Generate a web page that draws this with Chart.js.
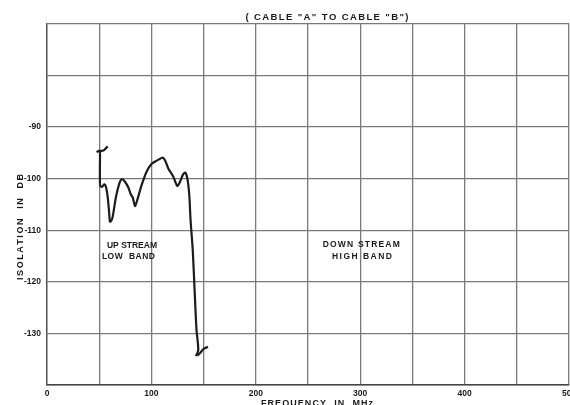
<!DOCTYPE html>
<html><head><meta charset="utf-8">
<script src="https://cdn.jsdelivr.net/npm/chart.js@4.4.1/dist/chart.umd.min.js"></script>
<style>html,body{margin:0;padding:0;background:#fff;overflow:hidden}canvas{display:block}</style>
</head><body>
<canvas id="c" width="570" height="405"></canvas>
<script>
// ---- data ----
const freqMHz = [50.8,50.8,52.4,53.5,54.9,56.5,58.1,59.3,60.3,61.5,62.9,66.1,69.3,71.6,74.7,77.9,80.2,82.1,84.3,86.5,90.7,95.5,100.3,105.1,110.8,113.0,116.2,121.0,124.8,127.4,130.0,132.2,134.4,136.3,137.5,139.6,141.8,143.2,144.9,142.7];
const isolationDb = [-94.7,-101.2,-101.6,-101.4,-101.1,-101.6,-103.5,-106.0,-108.3,-108.2,-107.4,-103.5,-100.9,-100.1,-100.6,-101.7,-103.0,-103.6,-105.3,-104.1,-101.2,-98.6,-97.1,-96.5,-95.9,-96.4,-98.0,-99.6,-101.4,-100.6,-99.3,-98.8,-99.9,-103.2,-108.0,-113.8,-123.5,-129.3,-133.2,-134.4];
const startMarkFreq = [47.6,49.5,52.4,55.0,58.1];
const startMarkDb = [-94.9,-94.6,-94.6,-94.4,-93.7];
const endMarkFreq = [144.0,146.6,150.0,154.2];
const endMarkDb = [-134.3,-133.8,-133.0,-132.6];
const xTickLabels = [0,100,200,300,400,500];
const yTickLabels = [-90,-100,-110,-120,-130];
const chartTitle = '( CABLE "A" TO CABLE "B")';
const xTitle = 'FREQUENCY  IN  MHz';
const yTitle = 'ISOLATION  IN  DB';
const noteTexts = ['UP STREAM','LOW  BAND','DOWN STREAM','HIGH BAND'];
const noteFreq = [81.4,78.0,301.0,301.7];
const noteDb = [-112.9,-115.2,-112.7,-115.2];
const noteWidth = [50,53,77,60];

function pts(xs, ys){ return xs.map((x,i)=>({x:x,y:ys[i]})); }

function spaced(ctx, text, cx, cy, width){
  const ws = [...text].map(ch=>ctx.measureText(ch).width);
  const W = ws.reduce((a,b)=>a+b,0);
  const n = ws.length;
  const extra = n>1 ? (width - W)/(n-1) : 0;
  let x = cx - width/2;
  ctx.textAlign = 'left';
  ctx.textBaseline = 'middle';
  [...text].forEach((ch,i)=>{ ctx.fillText(ch, x, cy); x += ws[i] + extra; });
}

const FONT = '"Liberation Sans", Arial, sans-serif';
const lastX = xTickLabels[xTickLabels.length-1];

const textPlugin = {
  id:'texts',
  afterDraw(chart){
    const ctx = chart.ctx, xs = chart.scales.x, ys = chart.scales.y;
    ctx.save();
    ctx.fillStyle = '#1a1a1a';
    ctx.font = 'bold 9.5px ' + FONT;
    spaced(ctx, chartTitle, 327, 17, 163);
    ctx.font = 'bold 9px ' + FONT;
    spaced(ctx, xTitle, 317, 404, 112);
    ctx.save();
    ctx.translate(21, 227);
    ctx.rotate(-Math.PI/2);
    spaced(ctx, yTitle, 0, 0, 106);
    ctx.restore();
    // last x tick label (clipped at the right edge as in the reference)
    ctx.font = 'bold 8.5px ' + FONT;
    ctx.textAlign = 'center'; ctx.textBaseline = 'top';
    ctx.fillText(String(lastX), xs.getPixelForValue(lastX), chart.chartArea.bottom + 4);
    noteTexts.forEach((t,i)=>{
      spaced(ctx, t, xs.getPixelForValue(noteFreq[i]), ys.getPixelForValue(noteDb[i]), noteWidth[i]);
    });
    ctx.restore();
  }
};

const lineStyle = {borderColor:'#1c1c1c', borderWidth:2.2, pointRadius:0, fill:false, tension:0.25};

new Chart(document.getElementById('c'), {
  type:'line',
  data:{ datasets:[
    Object.assign({data:pts(freqMHz, isolationDb)}, lineStyle),
    Object.assign({data:pts(startMarkFreq, startMarkDb)}, lineStyle),
    Object.assign({data:pts(endMarkFreq, endMarkDb)}, lineStyle)
  ]},
  options:{
    responsive:false, animation:false, devicePixelRatio:1,
    layout:{padding:{top:24,right:1,left:0,bottom:0}, autoPadding:false},
    plugins:{legend:{display:false}, tooltip:{enabled:false}, title:{display:false}},
    scales:{
      x:{type:'linear', min:0, max:500,
        ticks:{stepSize:50, autoSkip:false, maxRotation:0, padding:4, color:'#1a1a1a',
          font:{family:FONT, size:8.5, weight:'bold'},
          callback:(v)=> (xTickLabels.includes(v) && v !== lastX) ? String(v) : ''},
        grid:{color:'#7a7a7a', lineWidth:1.3, drawTicks:false},
        border:{color:'#444', width:1.6},
        afterFit:(s)=>{s.height = 20; s.paddingRight = 0; s.paddingLeft = 0;}
      },
      y:{type:'linear', min:-140, max:-70,
        ticks:{stepSize:10, autoSkip:false, padding:6, color:'#1a1a1a',
          font:{family:FONT, size:8.5, weight:'bold'},
          callback:(v)=> yTickLabels.includes(v) ? String(v) : ''},
        grid:{color:'#7a7a7a', lineWidth:1.3, drawTicks:false},
        border:{color:'#555', width:1.4},
        afterFit:(s)=>{s.width = 47;}
      }
    }
  },
  plugins:[textPlugin]
});
</script>
</body></html>
